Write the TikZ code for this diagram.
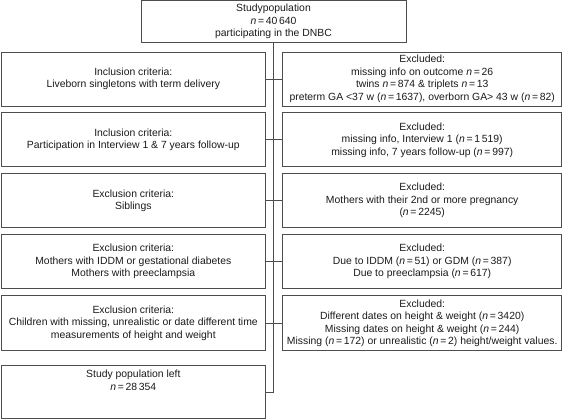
\documentclass[tikz,border=0pt]{standalone}
\usepackage{fontspec}
\setmainfont{Liberation Sans}
\usetikzlibrary{positioning}
\definecolor{boxline}{HTML}{4D4D4D}
\definecolor{boxtext}{HTML}{1A1A1A}

\begin{document}
\begin{tikzpicture}[
  x=1pt, y=-1pt,
  font=\fontsize{10.4}{12.5}\selectfont,
  box/.style  = {draw=boxline, line width=0.9pt, align=center, inner sep=2pt,
                 minimum height=54pt, text=boxtext},
  crit/.style = {box, minimum width=264.7pt},
  excl/.style = {box, minimum width=279.3pt},
  link/.style = {draw=boxline, line width=0.9pt},
]
\useasboundingbox (0,0) rectangle (563,420);

%% ---------------------------------------------------------------- cohort
\node[box, minimum width=265pt, minimum height=42.5pt] (start) at (273.5,21.7)
  {Studypopulation\\ \textit{n}\,=\,40\,640\\ participating in the DNBC};

%% ---------------------------------------------------------------- criteria
\node[crit] (c1) at (133.3,79)
  {Inclusion criteria:\\ Liveborn singletons with term delivery};
\node[crit, below=6pt of c1] (c2)
  {Inclusion criteria:\\ Participation in Interview 1 \& 7 years follow-up};
\node[crit, below=6pt of c2] (c3)
  {Exclusion criteria:\\ Siblings};
\node[crit, below=6pt of c3] (c4)
  {Exclusion criteria:\\ Mothers with IDDM or gestational diabetes\\ Mothers with preeclampsia};
\node[crit, below=6pt of c4, minimum height=55pt] (c5)
  {Exclusion criteria:\\ Children with missing, unrealistic or date different time\\ measurements of height and weight};
\node[crit, below=14pt of c5, minimum height=53pt, text depth=24pt] (final)
  {Study population left\\ \textit{n}\,=\,28\,354};

%% ---------------------------------------------------------------- excluded
\node[excl, right=16pt of c1] (e1)
  {Excluded:\\ missing info on outcome \textit{n}\,=\,26\\
   twins \textit{n}\,=\,874 \& triplets \textit{n}\,=\,13\\
   preterm GA <37 w (\textit{n}\,=\,1637), overborn GA> 43 w (\textit{n}\,=\,82)};
\node[excl, right=16pt of c2] (e2)
  {Excluded:\\ missing info, Interview 1 (\textit{n}\,=\,1\,519)\\
   missing info, 7 years follow-up (\textit{n}\,=\,997)};
\node[excl, right=16pt of c3] (e3)
  {Excluded:\\ Mothers with their 2nd or more pregnancy\\ (\textit{n}\,=\,2245)};
\node[excl, right=16pt of c4] (e4)
  {Excluded:\\ Due to IDDM (\textit{n}\,=\,51) or GDM (\textit{n}\,=\,387)\\
   Due to preeclampsia (\textit{n}\,=\,617)};
\node[excl, right=16pt of c5, minimum height=55pt] (e5)
  {Excluded:\\ Different dates on height \& weight (\textit{n}\,=\,3420)\\
   Missing dates on height \& weight (\textit{n}\,=\,244)\\
   Missing (\textit{n}\,=\,172) or unrealistic (\textit{n}\,=\,2) height/weight values.};

%% ---------------------------------------------------------------- links
\draw[link] (start.south) |- (final.east);
\foreach \i in {1,...,5}
  \draw[link] (c\i) -- (e\i);
\end{tikzpicture}
\end{document}
